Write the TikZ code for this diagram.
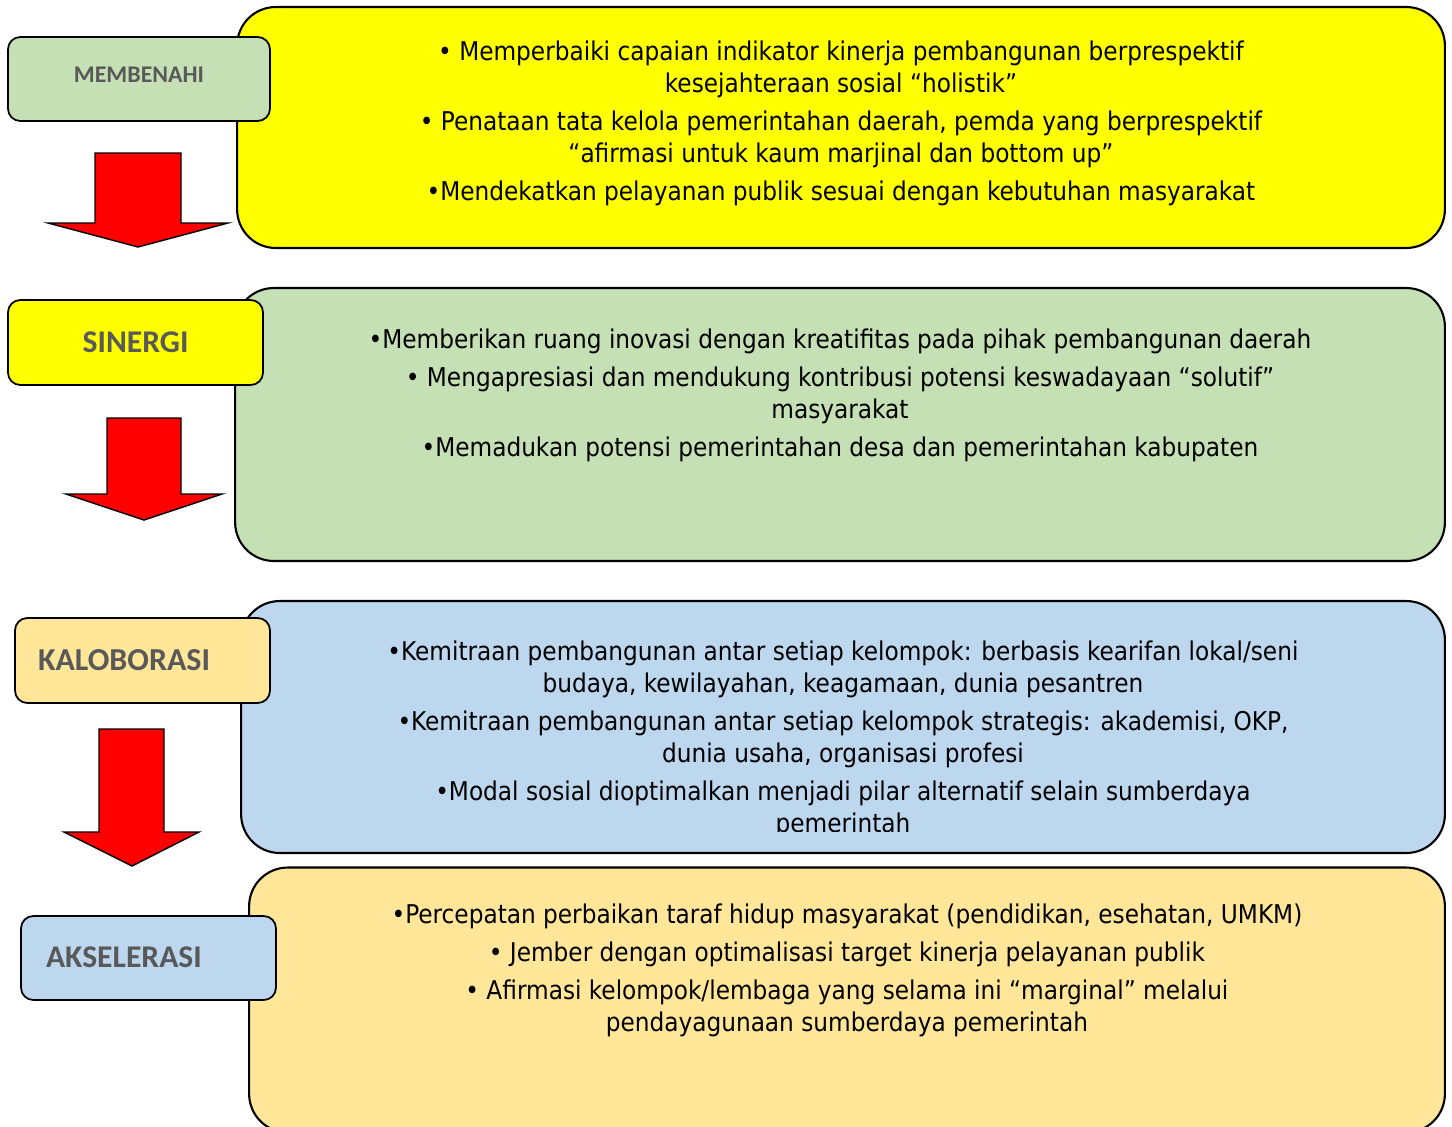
\documentclass[tikz,border=0pt]{standalone}
\usepackage{fontspec}
\setmainfont{DejaVu Sans Condensed}
\newfontfamily\labelfont{Carlito}
\usetikzlibrary{positioning}
\definecolor{boxyellow}{HTML}{FFFF00}
\definecolor{boxgreen}{HTML}{C5E0B4}
\definecolor{boxblue}{HTML}{BDD7EE}
\definecolor{boxtan}{HTML}{FFE699}
\definecolor{labelgray}{HTML}{595959}
\definecolor{arrowred}{HTML}{FF0000}

\begin{document}
\begin{tikzpicture}[x=0.02cm, y=-0.02cm,
    bodybox/.style={draw=black, line width=1.2pt, rounded corners=22pt},
    tagbox/.style={draw=black, line width=1pt, rounded corners=7pt, text=labelgray,
                   font=\labelfont\bfseries, inner sep=0pt},
    bodytext/.style={align=center, inner sep=0pt, anchor=north,
                     font=\fontsize{14.7}{18.2}\selectfont}]
    \clip (0,0) rectangle (1452,1126);
    % big boxes
    \node[bodybox, fill=boxyellow, minimum width=24.16cm, minimum height=4.82cm] (membenahiBox) at (841,127.5) {};
    \node[bodybox, fill=boxgreen, minimum width=24.2cm, minimum height=5.46cm] (sinergiBox) at (840,424.5) {};
    \node[bodybox, fill=boxblue, minimum width=24.08cm, minimum height=5.04cm] (kaloborasiBox) at (843,727) {};
    \node[bodybox, fill=boxtan, minimum width=23.92cm, minimum height=5.3cm] (akselerasiBox) at (847,1000) {};
    % arrows
    \foreach \sl/\sr/\st/\hb/\hl/\hr/\tx/\ty in {95/181/153/223/48/228/138/247,
                                                107/181/418/494/66/222/144/520,
                                                99/164/729/832/64/199/132/866}{
      \draw[fill=arrowred, line width=0.8pt, line join=miter]
        (\sl,\st) -- (\sr,\st) -- (\sr,\hb) -- (\hr,\hb) -- (\tx,\ty)
        -- (\hl,\hb) -- (\sl,\hb) -- cycle;
    }
    % tags
    \node[tagbox, fill=boxgreen, minimum width=5.24cm, minimum height=1.68cm,
          font=\labelfont\bfseries\fontsize{13.6}{15}\selectfont] (membenahi) at (139,79) {\raisebox{5pt}{MEMBENAHI}};
    \node[tagbox, fill=boxyellow, minimum width=5.1cm, minimum height=1.7cm,
          font=\labelfont\bfseries\fontsize{18}{20}\selectfont] (sinergi) at (135.5,342.5) {SINERGI};
    \node[tagbox, fill=boxtan, minimum width=5.1cm, minimum height=1.7cm,
          font=\labelfont\bfseries\fontsize{18.2}{20}\selectfont, text width=4.18cm, inner xsep=0.46cm,
          align=left] (kaloborasi) at (142.5,660.5) {\raisebox{1pt}{KALOBORASI}};
    \node[tagbox, fill=boxblue, minimum width=5.1cm, minimum height=1.68cm,
          font=\labelfont\bfseries\fontsize{18}{20}\selectfont, text width=4.1cm, inner xsep=0.5cm,
          align=left] (akselerasi) at (148.5,958) {\raisebox{1pt}{AKSELERASI}};
    % texts
    \node[bodytext] (membenahiText) at (841,41) {%
      • Memperbaiki capaian indikator kinerja pembangunan berprespektif\\
      kesejahteraan sosial “holistik”\\[3.4pt]
      • Penataan tata kelola pemerintahan daerah, pemda yang berprespektif\\
      “afirmasi untuk kaum marjinal dan bottom up”\\[3.4pt]
      •Mendekatkan pelayanan publik sesuai dengan kebutuhan masyarakat};
    \node[bodytext] (sinergiText) at (840,329) {%
      •Memberikan ruang inovasi dengan kreatifitas pada pihak pembangunan daerah\\[3.4pt]
      • Mengapresiasi dan mendukung kontribusi potensi keswadayaan “solutif”\\
      masyarakat\\[3.4pt]
      •Memadukan potensi pemerintahan desa dan pemerintahan kabupaten};
    \begin{scope}
      \clip (241,601) rectangle (1445,831);
      \node[bodytext] (kaloborasiText) at (843,641) {%
        •Kemitraan pembangunan antar setiap kelompok: berbasis kearifan lokal/seni\\
        budaya, kewilayahan, keagamaan, dunia pesantren\\[3.4pt]
        •Kemitraan pembangunan antar setiap kelompok strategis: akademisi, OKP,\\
        dunia usaha, organisasi profesi\\[3.4pt]
        •Modal sosial dioptimalkan menjadi pilar alternatif selain sumberdaya\\
        pemerintah};
    \end{scope}
    \node[bodytext] (akselerasiText) at (847,904) {%
      •Percepatan perbaikan taraf hidup masyarakat (pendidikan, esehatan, UMKM)\\[3.4pt]
      • Jember dengan optimalisasi target kinerja pelayanan publik\\[3.4pt]
      • Afirmasi kelompok/lembaga yang selama ini “marginal” melalui\\
      pendayagunaan sumberdaya pemerintah};
\end{tikzpicture}
\end{document}
